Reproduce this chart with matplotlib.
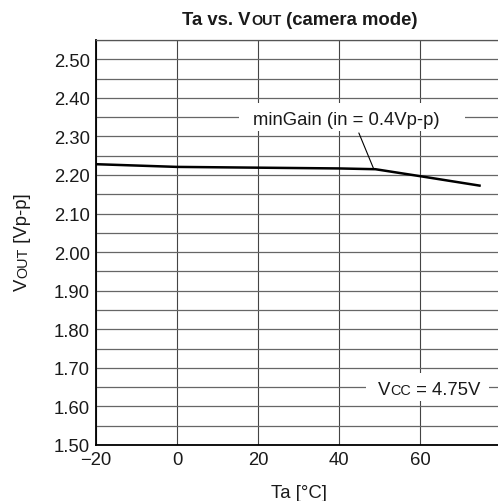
import matplotlib
matplotlib.use("Agg")
import matplotlib.pyplot as plt
from matplotlib.patches import Rectangle
import numpy as np

plt.rcParams['font.family'] = ['Liberation Sans', 'DejaVu Sans']

# data
ta = [-20, 0, 20, 40, 49, 60, 75]
vout = [2.228, 2.221, 2.219, 2.217, 2.215, 2.197, 2.172]

x_ticks = [-20, 0, 20, 40, 60]
y_ticks = np.round(np.arange(1.50, 2.501, 0.10), 2)
y_minor = np.round(np.arange(1.55, 2.56, 0.10), 2)

FS = 13.3
W, H = 498, 502
fig = plt.figure(figsize=(W / 100, H / 100), dpi=100)
ax = fig.add_axes([96 / W, 1 - 446 / H, 405 / W, 405 / H])

ax.plot(ta, vout, color='black', lw=1.8, zorder=3, solid_capstyle='butt')

ax.set_xlim(-20, 80)
ax.set_ylim(1.50, 2.55)
ax.set_xticks(x_ticks)
ax.set_yticks(y_ticks)
ax.set_yticklabels([f"{v:.2f}" for v in y_ticks])
ax.set_yticks(y_minor, minor=True)
ax.tick_params(which='both', length=0, pad=4.5, labelsize=FS, colors='#1a1a1a')
ax.grid(True, which='major', axis='x', color='#444444', lw=0.8)
ax.grid(True, which='both', axis='y', color='#666666', lw=0.9)
ax.set_axisbelow(True)

ax.spines['right'].set_visible(False)
ax.spines['top'].set_color('#555555')
ax.spines['top'].set_linewidth(0.9)
ax.spines['left'].set_linewidth(1.3)
ax.spines['bottom'].set_linewidth(1.3)

r = fig.canvas.get_renderer()


def text_width(s, size, weight='normal'):
    # measure with guard glyphs so spaces count
    t1 = fig.text(0, 0, 'l' + s + 'l', fontsize=size, fontweight=weight)
    t2 = fig.text(0, 0, 'll', fontsize=size, fontweight=weight)
    w = t1.get_window_extent(r).width - t2.get_window_extent(r).width
    t1.remove()
    t2.remove()
    return w


def rich_text(x, y, parts, size, ha='center', rotation=0, weight='normal'):
    # x, y: baseline anchor in pixels; parts: (string, scale)
    widths = [text_width(s, size * k, weight) for s, k in parts]
    total = sum(widths)
    pos = -total / 2 if ha == 'center' else 0
    for (s, k), w in zip(parts, widths):
        px, py = (x, y + pos) if rotation == 90 else (x + pos, y)
        fig.text(px / W, py / H, s, fontsize=size * k, fontweight=weight,
                 rotation=rotation, rotation_mode='anchor',
                 ha='left', va='baseline', color='#1a1a1a', zorder=5)
        pos += w
    return total


def boxed_label(xc, yc, parts, size, pad_l, pad_r, pad_v):
    px, py = ax.transData.transform((xc, yc))
    cap = 0.72 * size * 100 / 72
    total = sum(text_width(s, size * k) for s, k in parts)
    x0 = px - total / 2
    fig.patches.append(Rectangle(((x0 - pad_l) / W, (py - cap / 2 - pad_v) / H),
                                 (total + pad_l + pad_r) / W, (cap + 2 * pad_v) / H,
                                 transform=fig.transFigure, facecolor='white',
                                 edgecolor='none', zorder=2))
    rich_text(x0, py - cap / 2, parts, size, ha='left')


sc = 0.78
# title
rich_text(300, H - 25, [('Ta vs. V', 1), ('OUT', sc), (' (camera mode)', 1)], FS,
          weight='bold')
# axis labels
rich_text(27, H - 242, [('V', 1), ('OUT', sc), (' [Vp-p]', 1)], FS, rotation=90)
fig.text(299 / W, 4 / H, 'Ta [°C]', fontsize=FS, ha='center', va='baseline',
         color='#1a1a1a')

# annotations
boxed_label(41.9, 2.35, [('minGain (in = 0.4Vp-p)', 1)], FS, 14, 25, 7)
ax.annotate('', xy=(48.6, 2.215), xytext=(44.9, 2.309),
            arrowprops=dict(arrowstyle='-', lw=0.8, color='black',
                            shrinkA=0, shrinkB=0), zorder=4)
boxed_label(62.2, 1.65, [('V', 1), ('CC', sc), (' = 4.75V', 1)], FS, 12, 9, 7)

fig.savefig('out.png', dpi=100)
